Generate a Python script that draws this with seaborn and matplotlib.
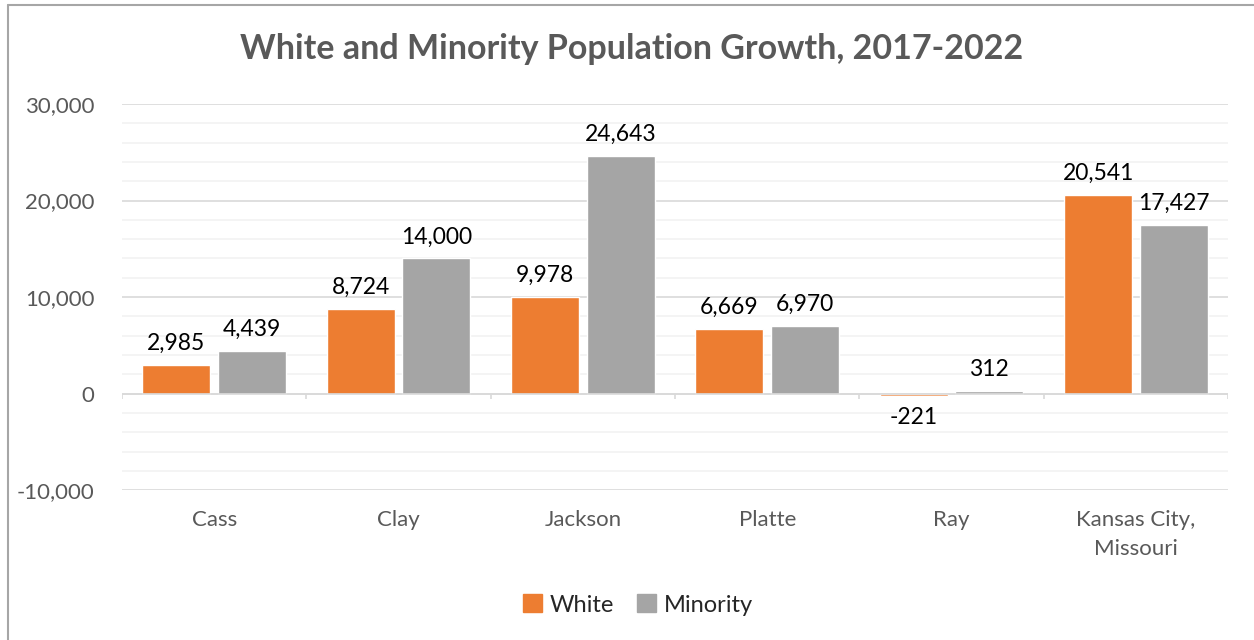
import numpy as np
import pandas as pd
import matplotlib.pyplot as plt
import seaborn as sns
from matplotlib.lines import Line2D
from matplotlib.ticker import MultipleLocator, FuncFormatter

counties = ["Cass", "Clay", "Jackson", "Platte", "Ray", "Kansas City,\nMissouri"]
white = [2985, 8724, 9978, 6669, -221, 20541]
minority = [4439, 14000, 24643, 6970, 312, 17427]
series = ["White", "Minority"]

df = pd.DataFrame({
    "County": counties * 2,
    "Group": ["White"] * len(counties) + ["Minority"] * len(counties),
    "Growth": white + minority,
})

sns.set_theme(style="white")
plt.rcParams['font.family'] = ['Lato', 'DejaVu Sans']

fig = plt.figure(figsize=(12.54, 6.4), dpi=100)
ax = fig.add_axes([0.0973, 0.234, 0.8820, 0.6035])

colors = {"White": "#ED7D31", "Minority": "#A5A5A5"}
sns.barplot(data=df, x="County", y="Growth", hue="Group", hue_order=series,
            palette=colors, width=0.82, gap=0.1, ax=ax, saturation=1)

ax.set_ylim(-10000, 30000)
ax.set_xlim(-0.5, len(counties) - 0.5)
ax.yaxis.set_major_locator(MultipleLocator(10000))
ax.yaxis.set_minor_locator(MultipleLocator(2000))
ax.yaxis.set_major_formatter(FuncFormatter(lambda v, p: f"{int(v):,}"))
ax.grid(axis="y", which="minor", color="#F2F2F2", linewidth=1.2, zorder=0)
ax.grid(axis="y", which="major", color="#D9D9D9", linewidth=1.2, zorder=0)
ax.set_axisbelow(True)
for s in ax.spines.values():
    s.set_visible(False)

# category axis at zero with tick marks between categories
ax.axhline(0, color="#D9D9D9", linewidth=1.2, zorder=1)
bounds = np.arange(-0.5, len(counties), 1.0)
ax.vlines(bounds, -500, 0, color="#D9D9D9", linewidth=1.2, zorder=1)

ax.tick_params(axis="both", length=0, labelsize=16, colors="#595959")
ax.tick_params(axis="x", pad=14)
ax.tick_params(axis="y", pad=20)
for t in ax.get_xticklabels():
    t.set_linespacing(1.6)
ax.set_xlabel("")
ax.set_ylabel("")

for cont in ax.containers:
    labels = [f"{int(v):,}" for v in cont.datavalues]
    ax.bar_label(cont, labels=labels, padding=8, fontsize=16.5, color="black")

fig.text(632 / 1254, 1 - 49 / 640, "White and Minority Population Growth, 2017-2022",
         fontsize=24.5, fontweight="bold", color="#595959", ha="center", va="center")

ax.legend().remove()
handles = [plt.Rectangle((0, 0), 1, 1, color=colors[s]) for s in series]
fig.legend(handles, series, loc="center", bbox_to_anchor=(638 / 1254, 1 - 605 / 640),
           ncol=2, frameon=False, fontsize=17, handlelength=0.8, handleheight=0.8,
           columnspacing=1.0, handletextpad=0.3)

fig.add_artist(Line2D([8 / 1254, 1], [1 - 5 / 640, 1 - 5 / 640], color="#A6A6A6", linewidth=1.5))
fig.add_artist(Line2D([8 / 1254, 8 / 1254], [0, 1 - 5 / 640], color="#A6A6A6", linewidth=1.5))

fig.savefig("out.png", dpi=100)
